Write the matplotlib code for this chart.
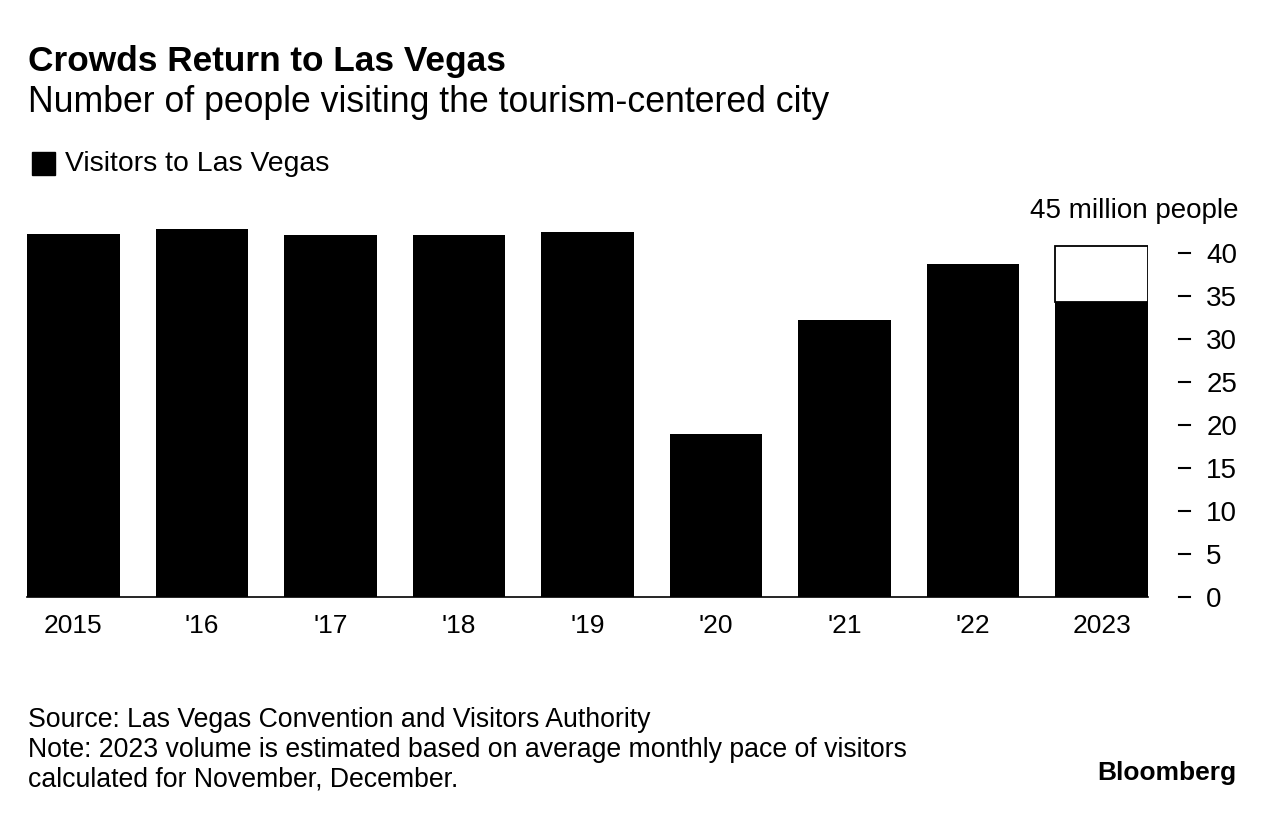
import matplotlib
matplotlib.use('Agg')
import matplotlib.pyplot as plt

plt.rcParams['font.family'] = ['Liberation Sans', 'DejaVu Sans']

# Dados (milhões de visitantes)
anos = ['2015', "'16", "'17", "'18", "'19", "'20", "'21", "'22", '2023']
visitantes = [42.3, 42.9, 42.2, 42.1, 42.5, 19.0, 32.2, 38.8, 34.3]
estimativa_2023 = 40.9
y_ticks = [0, 5, 10, 15, 20, 25, 30, 35, 40]

W, H = 1274, 818
fig = plt.figure(figsize=(W / 100, H / 100), dpi=100)

# eixo em pixels: esquerda 27, direita 1148, base 597, topo (45) 210.5
ax = fig.add_axes([27 / W, 1 - 597 / H, 1121 / W, 386.5 / H])

x = list(range(len(anos)))
largura = 0.72
ax.bar(x, visitantes, width=largura, color='black', linewidth=0)
# parte estimada de 2023 (contorno)
ax.bar(x[-1], estimativa_2023 - visitantes[-1], bottom=visitantes[-1],
       width=largura, facecolor='white', edgecolor='black', linewidth=1.3)

ax.set_xlim(-largura / 2, len(anos) - 1 + largura / 2)
ax.set_ylim(0, 45)

for s in ['top', 'left', 'right']:
    ax.spines[s].set_visible(False)
ax.spines['bottom'].set_linewidth(1.2)

ax.set_xticks(x)
ax.set_xticklabels(anos, fontsize=19)
ax.tick_params(axis='x', length=0, pad=12)

ax.yaxis.tick_right()
ax.set_yticks(y_ticks)
ax.set_yticklabels([str(v) for v in y_ticks], fontsize=20, ha='left')
ax.tick_params(axis='y', length=0, pad=42)

# traços dos ticks
for v in y_ticks:
    yy = ax.transData.transform((0, v))[1] / H
    fig.add_artist(plt.Line2D([1179 / W, 1190 / W], [yy, yy],
                              color='black', linewidth=1.5))

fig.text(1238 / W, 1 - 211 / H, '45 million people', fontsize=20,
         ha='right', va='center')

# títulos
fig.text(28 / W, 1 - 61 / H, 'Crowds Return to Las Vegas', fontsize=25.4,
         fontweight='bold', va='center')
fig.text(28 / W, 1 - 103 / H, 'Number of people visiting the tourism-centered city',
         fontsize=25.7, va='center')

# legenda
fig.add_artist(plt.Rectangle((32 / W, 1 - 175 / H), 23 / W, 23 / H,
                             transform=fig.transFigure, color='black'))
fig.text(65 / W, 1 - 164 / H, 'Visitors to Las Vegas', fontsize=20.4, va='center')

# rodapé
fig.text(28 / W, 1 - 720 / H, 'Source: Las Vegas Convention and Visitors Authority',
         fontsize=19.2, va='center')
fig.text(28 / W, 1 - 750 / H,
         'Note: 2023 volume is estimated based on average monthly pace of visitors',
         fontsize=19.2, va='center')
fig.text(28 / W, 1 - 779 / H, 'calculated for November, December.',
         fontsize=19.2, va='center')
fig.text(1236 / W, 1 - 773 / H, 'Bloomberg', fontsize=19, fontweight='bold',
         ha='right', va='center')

fig.savefig('out.png', dpi=100)
